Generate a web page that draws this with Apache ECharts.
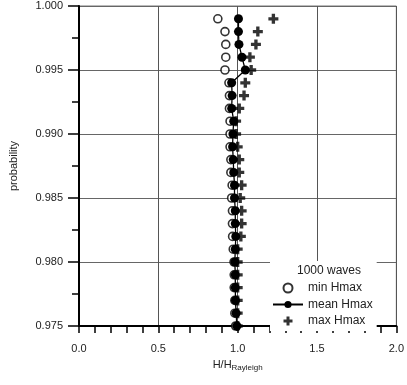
<!DOCTYPE html>
<html><head><meta charset="utf-8">
<script src="https://cdn.jsdelivr.net/npm/echarts@6/dist/echarts.min.js"></script>
<style>html,body{margin:0;padding:0;background:#fff}#c{width:407px;height:385px}</style>
</head><body><div id="c"></div>
<script>
const probability = [0.999,0.998,0.997,0.996,0.995,0.994,0.993,0.992,0.991,0.990,0.989,0.988,0.987,0.986,0.985,0.984,0.983,0.982,0.981,0.980,0.979,0.978,0.977,0.976,0.975];
const minHmax  = [0.875,0.92,0.925,0.925,0.92,0.945,0.948,0.948,0.952,0.952,0.952,0.957,0.957,0.965,0.962,0.967,0.967,0.968,0.972,0.977,0.978,0.978,0.982,0.982,0.987];
const meanHmax = [1.005,1.005,1.008,1.027,1.048,0.962,0.965,0.962,0.975,0.97,0.968,0.972,0.975,0.98,0.98,0.985,0.985,0.988,0.985,0.982,0.985,0.985,0.986,0.99,0.995];
const maxHmax  = [1.225,1.127,1.115,1.077,1.085,1.048,1.04,1.01,0.99,0.99,1.0,1.01,1.01,1.025,1.016,1.025,1.025,1.02,1.0,1.0,1.0,1.0,1.0,1.0,1.0];
const xTicks = [0.0,0.5,1.0,1.5,2.0];
const yTicks = [0.975,0.980,0.985,0.990,0.995,1.000];
const legendTitle = '1000 waves';

const pairs = v => v.map((x,i)=>[x, probability[i]]);
const font = 'Liberation Sans, Arial, sans-serif';
const plus = 'path://M3,0H6V3H9V6H6V9H3V6H0V3H3Z';

const chart = echarts.init(document.getElementById('c'));
chart.setOption({
  animation:false,
  grid:{left:79,right:7,top:6,bottom:59,show:true,borderColor:'#777',borderWidth:1,backgroundColor:'transparent'},
  xAxis:{type:'value',min:xTicks[0],max:xTicks[xTicks.length-1],interval:0.5,
    name:'{m|H/H}{s|Rayleigh}',nameLocation:'middle',nameGap:32,
    nameTextStyle:{rich:{m:{fontFamily:font,fontSize:11,color:'#222'},s:{fontFamily:font,fontSize:8,color:'#222',verticalAlign:'bottom',padding:[6,0,0,0]}}},
    axisLine:{lineStyle:{color:'#000',width:2}},
    axisTick:{show:true,inside:false,length:7,lineStyle:{color:'#000',width:1.5}},
    minorTick:{show:true,splitNumber:5,length:7,lineStyle:{color:'#000',width:1.5}},
    axisLabel:{margin:17,fontFamily:font,fontSize:11,color:'#222',formatter:v=>v.toFixed(1)},
    splitLine:{show:true,lineStyle:{color:'#555',width:1}}
  },
  yAxis:{type:'value',min:yTicks[0],max:yTicks[yTicks.length-1],interval:0.005,
    name:'probability',nameLocation:'middle',nameGap:60,nameRotate:90,
    nameTextStyle:{fontFamily:font,fontSize:11,color:'#222'},
    axisLine:{lineStyle:{color:'#000',width:2}},
    axisTick:{show:true,inside:false,length:11,lineStyle:{color:'#000',width:1.5}},
    minorTick:{show:true,splitNumber:2,length:7,lineStyle:{color:'#000',width:1.5}},
    axisLabel:{margin:16,fontFamily:font,fontSize:11,color:'#222',formatter:v=>v.toFixed(3)},
    splitLine:{show:true,lineStyle:{color:'#666',width:1}}
  },
  legend:{orient:'vertical',left:270,top:261,width:128,height:65,
    backgroundColor:'#fff',padding:[21,4,4,2],itemGap:4.5,itemWidth:30,itemHeight:9,
    textStyle:{fontFamily:font,fontSize:12,color:'#222'},
    data:['min Hmax','mean Hmax','max Hmax'],z:10},
  graphic:[{type:'text',left:297,top:265,z:100,style:{text:legendTitle,font:'12px '+font,fill:'#222'}}],
  series:[
    {name:'min Hmax',type:'scatter',data:pairs(minHmax),symbol:'circle',symbolSize:8,
     itemStyle:{color:'#fff',borderColor:'#000',borderWidth:1.6},z:2},
    {name:'max Hmax',type:'scatter',data:pairs(maxHmax),symbol:plus,symbolSize:10,
     itemStyle:{color:'#000'},z:3},
    {name:'mean Hmax',type:'line',data:pairs(meanHmax),symbol:'circle',symbolSize:9,showSymbol:true,
     lineStyle:{color:'#000',width:1.3},itemStyle:{color:'#000'},z:4}
  ]
});
</script></body></html>
